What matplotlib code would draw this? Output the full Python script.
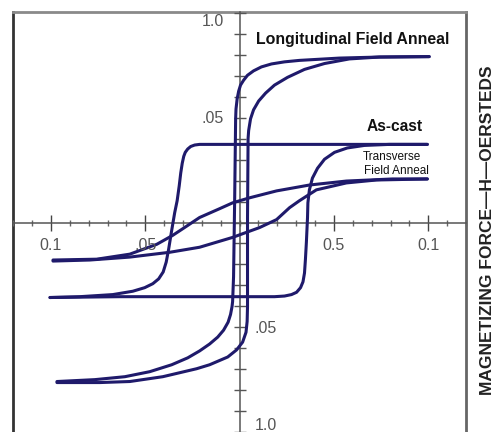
import matplotlib
matplotlib.use("Agg")
import matplotlib.pyplot as plt

plt.rcParams['font.family'] = ['Liberation Sans', 'DejaVu Sans']

# hysteresis loops (H in tick divisions, B in tick divisions)
# longitudinal field anneal
long_down_h = [10.05, 7.41, 5.29, 3.17, 2.38, 1.69, 1.16, 0.74, 0.42, 0.21, 0.05, -0.05,
               -0.13, -0.19, -0.21, -0.26, -0.32, -0.37, -0.40, -0.48, -0.61, -0.85, -1.16,
               -1.59, -2.12, -2.75, -3.60, -4.76, -6.08, -7.67, -9.68]
long_down_b = [7.92, 7.90, 7.85, 7.74, 7.67, 7.57, 7.43, 7.24, 7.03, 6.79, 6.56, 6.27,
               5.90, 5.42, 4.95, 1.18, -2.59, -3.77, -4.01, -4.39, -4.76, -5.14, -5.47,
               -5.80, -6.13, -6.46, -6.79, -7.12, -7.36, -7.50, -7.59]
long_up_h = [-9.68, -7.41, -5.82, -4.07, -2.28, -1.59, -0.63, -0.16, 0.16, 0.34, 0.40, 0.42,
             0.42, 0.45, 0.48, 0.58, 0.74, 1.01, 1.38, 1.85, 2.54, 3.44, 4.50, 5.82, 7.41, 10.05]
long_up_b = [-7.64, -7.64, -7.59, -7.36, -6.98, -6.79, -6.42, -6.08, -5.71, -5.24, -4.72, -4.01,
             0.24, 4.01, 4.39, 4.95, 5.38, 5.80, 6.18, 6.56, 6.93, 7.31, 7.59, 7.81, 7.90, 7.92]

# as-cast
cast_down_h = [9.95, 3.17, -2.12, -2.38, -2.59, -2.75, -2.88, -2.96, -3.04, -3.12, -3.20,
               -3.31, -3.44, -3.60, -3.76, -3.89, -4.05, -4.29, -4.60, -5.03, -5.66, -6.72,
               -8.47, -10.05]
cast_down_b = [3.73, 3.73, 3.73, 3.70, 3.63, 3.51, 3.35, 3.16, 2.83, 2.36, 1.75,
               1.04, 0.47, -0.38, -1.27, -1.89, -2.36, -2.69, -2.92, -3.11, -3.28, -3.44,
               -3.54, -3.58]
cast_up_h = [-10.05, -6.35, -2.12, 1.85, 2.38, 2.75, 3.02, 3.23, 3.36, 3.44, 3.49, 3.54,
             3.60, 3.62, 3.70, 3.86, 4.13, 4.50, 5.03, 5.71, 6.61, 7.94, 9.95]
cast_up_b = [-3.58, -3.54, -3.54, -3.54, -3.51, -3.44, -3.33, -3.11, -2.83, -2.41, -1.75, -0.94,
             0.24, 0.94, 1.56, 2.12, 2.59, 3.02, 3.35, 3.56, 3.68, 3.73, 3.73]

# transverse field anneal
trans_down_h = [9.95, 8.10, 5.66, 3.70, 1.96, 0.53, -0.37, -1.06, -2.12, -2.75, -3.54,
                -4.39, -5.82, -7.57, -9.89]
trans_down_b = [2.08, 2.08, 1.98, 1.79, 1.51, 1.18, 0.94, 0.66, 0.24, -0.14, -0.61,
                -1.04, -1.51, -1.75, -1.79]
trans_up_h = [-9.89, -7.94, -5.82, -3.70, -2.12, -0.37, 1.06, 1.96, 2.65, 3.17, 4.07,
              5.66, 7.25, 9.95]
trans_up_b = [-1.84, -1.79, -1.65, -1.42, -1.18, -0.71, -0.24, 0.14, 0.71, 1.04, 1.56,
              1.89, 2.03, 2.08]

x_major = [-10, -5, 5, 10]
x_minor = list(range(-12, 13))
y_major = [-10, -5, 5, 10]
y_minor = list(range(-10, 11))

x_labels = ['0.1', '.05', '0.5', '0.1']
y_labels_top = ['1.0', '.05']
y_labels_bottom = ['.05', '1.0']

curve_color = '#1f1a6b'

fig = plt.figure(figsize=(4.94, 4.32), dpi=100)
rect = [13 / 494, 0, 453 / 494, 1 - 12 / 432]

# outer frame
frame = fig.add_axes(rect)
frame.set_xticks([])
frame.set_yticks([])
frame.spines['bottom'].set_visible(False)
frame.spines['left'].set_color('#333333')
frame.spines['left'].set_linewidth(2)
frame.spines['top'].set_color('#8a8a8a')
frame.spines['top'].set_linewidth(2)
frame.spines['right'].set_color('#666666')
frame.spines['right'].set_linewidth(2)

ax = fig.add_axes(rect)
ax.patch.set_visible(False)
ax.set_xlim(-12.01, 11.96)
ax.set_ylim(-9.76, 10.05)
ax.spines['top'].set_visible(False)
ax.spines['right'].set_visible(False)
for s in ['left', 'bottom']:
    ax.spines[s].set_position('zero')
    ax.spines[s].set_linestyle((0, (1, 1)))
    ax.spines[s].set_color('#555555')
    ax.spines[s].set_linewidth(1.1)

ax.set_xticks(x_major)
ax.set_xticks(x_minor, minor=True)
ax.set_yticks(y_major)
ax.set_yticks(y_minor, minor=True)
ax.tick_params(axis='x', which='major', direction='inout', length=12, width=1, color='#444444',
               labelbottom=False)
ax.tick_params(axis='x', which='minor', direction='inout', length=5, width=1, color='#666666')
ax.tick_params(axis='y', which='both', direction='inout', length=8, width=1, color='#555555',
               labelleft=False)

for h, b in [(long_down_h, long_down_b), (long_up_h, long_up_b),
             (cast_down_h, cast_down_b), (cast_up_h, cast_up_b),
             (trans_down_h, trans_down_b), (trans_up_h, trans_up_b)]:
    ax.plot(h, b, color=curve_color, lw=2.2, zorder=3,
            solid_capstyle='round', solid_joinstyle='round')

# tick labels
lab = dict(color='#555555', fontsize=11.5)
for xv, t in zip(x_major, x_labels):
    ax.text(xv, -1.1, t, ha='center', va='center', **lab)
for yv, t in zip([9.58, 4.95], y_labels_top):
    ax.text(-0.85, yv, t, ha='right', va='center', **lab)
for yv, t in zip([-5.05, -9.67], y_labels_bottom):
    ax.text(0.79, yv, t, ha='left', va='center', **lab)

# curve labels
ax.text(0.85, 8.73, 'Longitudinal Field Anneal', ha='left', va='center',
        fontsize=11.4, fontweight='bold', color='#111111')
ax.text(8.2, 4.58, 'As-cast', ha='center', va='center',
        fontsize=11.2, fontweight='bold', color='#111111')
ax.text(8.05, 3.11, 'Transverse', ha='center', va='center', fontsize=8.5, color='#111111')
ax.text(8.3, 2.45, 'Field Anneal', ha='center', va='center', fontsize=8.5, color='#111111')

fig.text(487 / 494, 1 - 230 / 432, 'MAGNETIZING FORCE\u2014H\u2014OERSTEDS', rotation=90,
         ha='center', va='center', fontsize=12.5, fontweight='bold', color='#222222')

fig.savefig('out.png', dpi=100)
